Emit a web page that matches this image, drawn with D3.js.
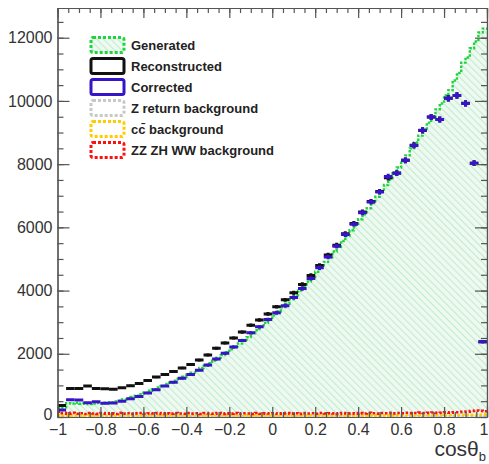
<!DOCTYPE html>
<html>
<head>
<meta charset="utf-8">
<script src="https://cdn.jsdelivr.net/npm/d3@7"></script>
<style>
  body { margin: 0; background: #fff; }
  svg { display: block; }
  text { font-family: "Liberation Sans", Arial, Helvetica, sans-serif; }
</style>
</head>
<body>
<svg id="chart" width="489" height="464"></svg>
<script>
// cos(theta_b) distributions, 100 bins (generated, backgrounds) and 50 bins (reco / corrected) over [-1, 1]
const generated = [
  290, 305, 440, 428, 446, 418, 432, 410, 424, 441,
  432, 452, 468, 493, 518, 552, 588, 633, 676, 724,
  768, 832, 876, 934, 986, 1043, 1088, 1152, 1208, 1274,
  1336, 1405, 1468, 1552, 1618, 1706, 1784, 1873, 1958, 2052,
  2138, 2236, 2326, 2437, 2528, 2645, 2746, 2858, 2984, 3086,
  3215, 3336, 3468, 3582, 3726, 3854, 3998, 4132, 4288, 4422,
  4596, 4742, 4908, 5052, 5238, 5384, 5566, 5722, 5908, 6064,
  6258, 6414, 6606, 6772, 6968, 7142, 7338, 7512, 7716, 7894,
  8102, 8276, 8498, 8684, 8902, 9086, 9312, 9498, 9734, 9918,
  10176, 10342, 10648, 10884, 11212, 11376, 11668, 11882, 12164, 12286
];
const reconstructed = [
  362, 905, 900, 978, 905, 890, 880, 922, 990, 1062,
  1158, 1262, 1348, 1442, 1552, 1660, 1802, 1962, 2178, 2342,
  2498, 2688, 2902, 3068, 3262, 3488, 3706, 3928, 4196, 4478,
  4796, 5128, 5436, 5798, 6124, 6482, 6818, 7132, 7566, 7716,
  8122, 8596, 9068, 9492, 9412, 10084, 10172, 9924, 8032, 2384
];
const corrected = [
  222, 548, 540, 452, 482, 432, 442, 502, 578, 652,
  762, 862, 978, 1102, 1228, 1342, 1482, 1642, 1834, 2018,
  2212, 2422, 2662, 2852, 3082, 3302, 3522, 3782, 4062, 4382,
  4722, 5062, 5402, 5772, 6102, 6462, 6802, 7122, 7612, 7712,
  8122, 8592, 9072, 9492, 9412, 10082, 10172, 9922, 8032, 2382
];
const zReturnBkg = [
  24, 21, 26, 22, 25, 20, 23, 27, 21, 24,
  22, 25, 20, 24, 26, 21, 23, 25, 22, 20,
  24, 26, 21, 23, 25, 22, 24, 20, 23, 26,
  21, 25, 22, 24, 27, 21, 23, 25, 20, 24,
  26, 22, 24, 21, 25, 23, 20, 26, 22, 24,
  23, 25, 21, 24, 27, 22, 25, 23, 21, 26,
  24, 22, 27, 23, 25, 21, 26, 24, 28, 22,
  25, 27, 23, 26, 24, 28, 22, 27, 25, 29,
  26, 24, 28, 25, 30, 27, 29, 26, 31, 28,
  30, 27, 32, 29, 33, 31, 35, 33, 38, 42
];
const ccbarBkg = [
  62, 48, 55, 51, 46, 53, 49, 57, 50, 47,
  54, 49, 52, 46, 55, 50, 48, 53, 51, 45,
  52, 56, 47, 50, 54, 49, 51, 46, 53, 50,
  48, 55, 52, 47, 51, 54, 49, 53, 46, 50,
  55, 48, 52, 50, 47, 53, 51, 49, 54, 46,
  50, 53, 48, 55, 51, 47, 52, 50, 54, 49,
  51, 47, 53, 50, 55, 48, 52, 49, 54, 51,
  48, 53, 50, 56, 52, 49, 55, 51, 53, 57,
  52, 55, 50, 58, 54, 57, 53, 59, 56, 60,
  58, 62, 57, 64, 61, 66, 63, 70, 68, 75
];
const dibosonBkg = [
  168, 122, 108, 131, 102, 118, 95, 127, 110, 99,
  124, 104, 116, 97, 129, 108, 121, 100, 115, 126,
  103, 119, 109, 128, 98, 117, 106, 123, 112, 101,
  125, 107, 118, 96, 122, 111, 104, 127, 99, 116,
  108, 124, 102, 119, 113, 97, 126, 105, 118, 110,
  121, 101, 115, 128, 106, 119, 98, 124, 112, 117,
  103, 126, 109, 121, 115, 100, 128, 112, 119, 107,
  124, 113, 130, 118, 106, 127, 121, 132, 115, 125,
  119, 134, 122, 128, 138, 126, 131, 142, 129, 136,
  145, 133, 151, 148, 162, 171, 188, 205, 196, 182
];
const xTickValues = [-1, -0.8, -0.6, -0.4, -0.2, 0, 0.2, 0.4, 0.6, 0.8, 1];
const yTickValues = [0, 2000, 4000, 6000, 8000, 10000, 12000];
const legendLabels = ["Generated", "Reconstructed", "Corrected", "Z return background", "c\u0304 background", "ZZ ZH WW background"];

const svg = d3.select("#chart");
const x = d3.scaleLinear().domain([-1, 1]).range([57.5, 487]);
const y = d3.scaleLinear().domain([0, 12940]).range([417, 8]);

const defs = svg.append("defs");
const hatch = defs.append("pattern")
  .attr("id", "hatch").attr("patternUnits", "userSpaceOnUse")
  .attr("width", 5).attr("height", 5)
  .attr("patternTransform", "rotate(-45)");
hatch.append("rect").attr("width", 5).attr("height", 5).attr("fill", "#eefaf1");
hatch.append("line").attr("x1", 0).attr("y1", 0).attr("x2", 0).attr("y2", 5)
  .attr("stroke", "#c4ebcf").attr("stroke-width", 2.2);
defs.append("clipPath").attr("id", "plotclip")
  .append("rect").attr("x", 57.5).attr("y", 8).attr("width", 429.5).attr("height", 409);

function bins(values) {
  const w = 2 / values.length;
  return values.map((v, i) => ({ lo: -1 + i * w, hi: -1 + (i + 1) * w, mid: -1 + (i + 0.5) * w, v }));
}
function stepPoints(values) {
  const pts = bins(values).map(d => [d.lo, d.v]);
  pts.push([1, values[values.length - 1]]);
  return pts;
}
const stepLine = d3.line().x(d => x(d[0])).y(d => y(d[1])).curve(d3.curveStepAfter);
const stepArea = d3.area().x(d => x(d[0])).y0(y(0)).y1(d => y(d[1])).curve(d3.curveStepAfter);

const plot = svg.append("g").attr("clip-path", "url(#plotclip)");

// generated: hatched fill under dotted green outline
plot.append("path").datum(stepPoints(generated)).attr("d", stepArea).attr("fill", "url(#hatch)");

// backgrounds near zero
const bkgs = [
  { data: zReturnBkg, color: "#c4c4c4" },
  { data: ccbarBkg, color: "#ffcc00" },
  { data: dibosonBkg, color: "#ff1010" }
];
bkgs.forEach(b => {
  plot.append("path").datum(stepPoints(b.data)).attr("d", stepLine)
    .attr("fill", "none").attr("stroke", b.color).attr("stroke-width", 2.6)
    .attr("stroke-dasharray", "2.5,2");
});

plot.append("path").datum(stepPoints(generated)).attr("d", stepLine)
  .attr("fill", "none").attr("stroke", "#1ed63c").attr("stroke-width", 2.4)
  .attr("stroke-dasharray", "2.5,1.5");

// reconstructed and corrected: bin-width bars with Poisson error bars
function drawPoints(values, color) {
  const g = plot.append("g").attr("stroke", color).attr("stroke-width", 3);
  const b = bins(values);
  g.selectAll("line.h").data(b).join("line").attr("class", "h")
    .attr("x1", d => x(d.lo)).attr("x2", d => x(d.hi))
    .attr("y1", d => y(d.v)).attr("y2", d => y(d.v));
  g.selectAll("line.v").data(b).join("line").attr("class", "v")
    .attr("x1", d => x(d.mid)).attr("x2", d => x(d.mid))
    .attr("y1", d => y(d.v - Math.sqrt(d.v))).attr("y2", d => y(d.v + Math.sqrt(d.v)));
}
drawPoints(reconstructed, "#111111");
drawPoints(corrected, "#3814c8");

// frame with inward ticks on all four sides
const axisColor = "#555";
function styleAxis(g, fontSize) {
  g.select(".domain").attr("stroke", axisColor).attr("stroke-width", 1.2);
  g.selectAll(".tick line").attr("stroke", axisColor).attr("stroke-width", 1.2);
  g.selectAll("text").attr("fill", "#333").attr("font-size", fontSize).attr("font-family", "Liberation Sans, Arial, sans-serif");
}
const fmtX = d => d3.format("")(d).replace("-", "\u2212");
const xMinor = d3.range(-1, 1.0001, 0.05);
const yMinor = d3.range(0, 12941, 500);

const gBottomMinor = svg.append("g").attr("transform", "translate(0,417)")
  .call(d3.axisBottom(x).tickValues(xMinor).tickSize(-5).tickSizeOuter(0).tickFormat(""));
styleAxis(gBottomMinor, 0);
const gBottom = svg.append("g").attr("transform", "translate(0,417)")
  .call(d3.axisBottom(x).tickValues(xTickValues).tickSize(-10).tickSizeOuter(0).tickPadding(7).tickFormat(fmtX));
styleAxis(gBottom, 16);
// keep the last label inside the canvas
gBottom.selectAll(".tick text").filter(d => d === 1).attr("text-anchor", "end").attr("dx", 1);

const gTopMinor = svg.append("g").attr("transform", "translate(0,8)")
  .call(d3.axisTop(x).tickValues(xMinor).tickSize(-5).tickSizeOuter(0).tickFormat(""));
styleAxis(gTopMinor, 0);
const gTop = svg.append("g").attr("transform", "translate(0,8)")
  .call(d3.axisTop(x).tickValues(xTickValues).tickSize(-10).tickSizeOuter(0).tickFormat(""));
styleAxis(gTop, 0);

const gLeftMinor = svg.append("g").attr("transform", "translate(57.5,0)")
  .call(d3.axisLeft(y).tickValues(yMinor).tickSize(-6).tickSizeOuter(0).tickFormat(""));
styleAxis(gLeftMinor, 0);
const gLeft = svg.append("g").attr("transform", "translate(57.5,0)")
  .call(d3.axisLeft(y).tickValues(yTickValues).tickSize(-12).tickSizeOuter(0).tickPadding(5).tickFormat(d3.format("d")));
styleAxis(gLeft, 16);
gLeft.selectAll(".tick text").filter(d => d === 0).attr("dy", "0.15em");

const gRightMinor = svg.append("g").attr("transform", "translate(487,0)")
  .call(d3.axisRight(y).tickValues(yMinor).tickSize(-6).tickSizeOuter(0).tickFormat(""));
styleAxis(gRightMinor, 0);
const gRight = svg.append("g").attr("transform", "translate(487,0)")
  .call(d3.axisRight(y).tickValues(yTickValues).tickSize(-12).tickSizeOuter(0).tickFormat(""));
styleAxis(gRight, 0);

// axis title
const title = svg.append("text").attr("x", 486).attr("y", 456).attr("text-anchor", "end")
  .attr("font-size", 21).attr("fill", "#333");
title.append("tspan").text("cos\u03b8");
title.append("tspan").attr("font-size", 13).attr("dy", 5).text("b");

// legend
const legendStyles = [
  { stroke: "#1ed63c", fill: "url(#hatch)", dash: "3,2" },
  { stroke: "#111111", fill: "#fff", dash: null },
  { stroke: "#3814c8", fill: "#fff", dash: null },
  { stroke: "#c8c8c8", fill: "#fff", dash: "3,2" },
  { stroke: "#ffcc00", fill: "#fff", dash: "3,2" },
  { stroke: "#ff1010", fill: "#fff", dash: "3,2" }
];
const legend = svg.append("g");
legendLabels.forEach((label, i) => {
  const cy = 45 + i * 21;
  const s = legendStyles[i];
  legend.append("rect").attr("x", 91).attr("y", cy - 7.5).attr("width", 33).attr("height", 15)
    .attr("rx", 2).attr("fill", s.fill).attr("stroke", s.stroke).attr("stroke-width", 3)
    .attr("stroke-dasharray", s.dash);
  const t = legend.append("text").attr("x", 131).attr("y", cy + 5)
    .attr("font-size", 13).attr("font-weight", "bold").attr("fill", "#222");
  if (i === 4) {
    t.append("tspan").text("c");
    t.append("tspan").text("c\u0304");
    t.append("tspan").text(" background");
  } else {
    t.text(label);
  }
});
</script>
</body>
</html>
